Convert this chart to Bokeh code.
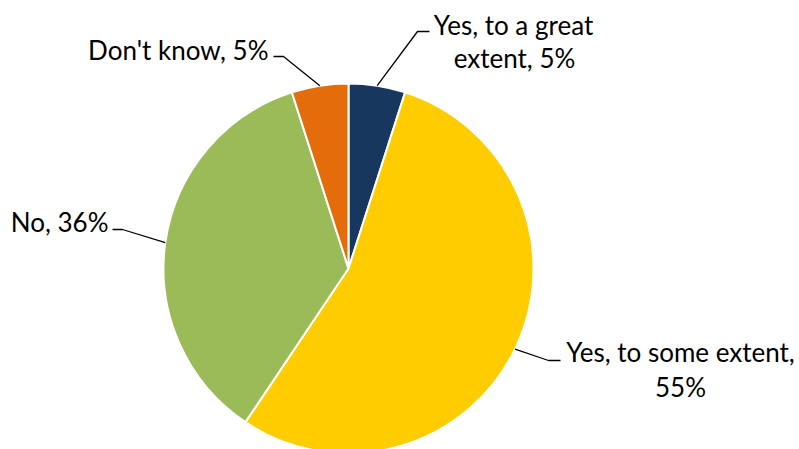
import math
from bokeh.plotting import figure
from bokeh.models import Range1d, ColumnDataSource
from bokeh.core.properties import value
from bokeh.embed import file_html
from bokeh.resources import INLINE

# ---- data ----
categories = ["Yes, to a great extent", "Yes, to some extent", "No", "Don't know"]
percents = [5, 55, 36, 5]
colors = ["#17375E", "#FFCC00", "#9BBB59", "#E46C0A"]
label_lines = [["Yes, to a great", "extent, 5%"],
               ["Yes, to some extent,", "55%"],
               ["No, 36%"],
               ["Don't know, 5%"]]

# ---- layout (image pixel coords, y measured from the top) ----
W, H = 799, 449
CX, CY, R = 348, 268, 185

def Y(img_y):
    return H - img_y

p = figure(width=W, height=H, output_backend="svg", toolbar_location=None,
           x_range=Range1d(0, W), y_range=Range1d(0, H),
           min_border=0)
p.axis.visible = False
p.grid.visible = False
p.outline_line_color = None
p.background_fill_color = "white"

total = float(sum(percents))
starts, ends, mids = [], [], []
cum = 0.0
for v in percents:
    a0 = math.pi / 2 - 2 * math.pi * cum / total
    cum += v
    a1 = math.pi / 2 - 2 * math.pi * cum / total
    starts.append(a0)
    ends.append(a1)
    mids.append((a0 + a1) / 2)

src = ColumnDataSource(dict(x=[CX] * 4, y=[Y(CY)] * 4, start=starts, end=ends,
                            color=colors, cat=categories))
p.wedge(x="x", y="y", radius=R, start_angle="start", end_angle="end",
        direction="clock", fill_color="color", line_color="white",
        line_width=2, source=src)

# leader lines: pie edge (at mid-angle) -> elbow -> end
elbows = [((417, 31), (429, 31)),
          ((548, 360), (560, 360)),
          ((122, 229), (112, 229)),
          ((283, 56), (273, 56))]
for m, (e1, e2) in zip(mids, elbows):
    sx = CX + R * math.cos(m)
    sy = Y(CY) + R * math.sin(m)
    p.line([sx, e1[0], e2[0]], [sy, Y(e1[1]), Y(e2[1])],
           line_color="black", line_width=1.3)

# label text placement
text_pos = [
    [(513, 24, "center"), (514, 57, "center")],
    [(680, 351, "center"), (680, 386, "center")],
    [(108, 221, "right")],
    [(268, 49, "right")],
]
tx, ty, tt, ta = [], [], [], []
for lines, poss in zip(label_lines, text_pos):
    for line, (x, yy, al) in zip(lines, poss):
        tx.append(x); ty.append(Y(yy)); tt.append(line); ta.append(al)

tsrc = ColumnDataSource(dict(x=tx, y=ty, text=tt, align=ta))
p.text(x="x", y="y", text="text", text_align="align", text_baseline="alphabetic",
       text_font=value("Lato"), text_font_size="26px", text_color="black",
       source=tsrc)

open("out.html", "w").write(file_html(p, INLINE))
